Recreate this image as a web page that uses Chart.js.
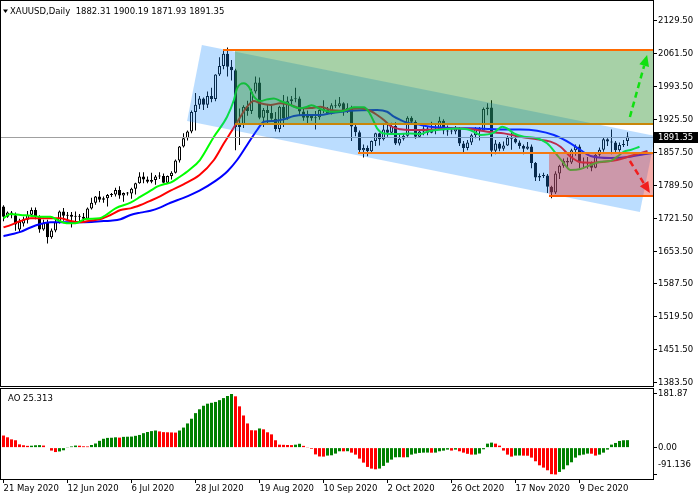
<!DOCTYPE html>
<html><head><meta charset="utf-8">
<script src="https://cdn.jsdelivr.net/npm/chart.js@4.4.1/dist/chart.umd.min.js"></script>
<style>
html,body{margin:0;padding:0;background:#fff;width:700px;height:500px;overflow:hidden}
#c1{position:absolute;left:0;top:0}
#c2{position:absolute;left:0;top:387px}
</style></head><body>
<canvas id="c1" width="700" height="387"></canvas>
<canvas id="c2" width="700" height="113"></canvas>
<script>
// ---------- data ----------
const symbolTitle = 'XAUUSD,Daily';
const xTickLabels = ['21 May 2020','12 Jun 2020','6 Jul 2020','28 Jul 2020','19 Aug 2020','10 Sep 2020','2 Oct 2020','26 Oct 2020','17 Nov 2020','9 Dec 2020'];
const xTickBars = [0,16,32,48,64,80,96,112,128,144];
const priceTicks = [2129.50,2061.50,1993.50,1925.50,1857.50,1789.50,1721.50,1653.50,1587.50,1519.50,1451.50,1383.50];
const aoTicks = [181.87,0,-91.136];
const aoTickLabels = ['181.87','0.00','-91.136'];

const opens = [1747,1726,1735,1729,1700,1712,1720,1730,1740,1727,
1700,1713,1684,1698,1715,1737,1728,1730,1726,1727,
1726,1722,1743,1755,1768,1761,1764,1771,1772,1781,
1770,1775,1774,1784,1795,1809,1803,1798,1802,1809,
1810,1796,1810,1817,1842,1871,1888,1902,1942,1957,
1970,1957,1975,1969,2019,2037,2062,2035,2028,1911,
1915,1953,1944,1984,2003,1930,1946,1940,1928,1907,
1953,1929,1964,1968,1970,1943,1930,1934,1929,1931,
1946,1947,1940,1956,1954,1960,1944,1950,1912,1900,
1863,1868,1861,1882,1898,1886,1906,1899,1913,1877,
1887,1893,1930,1922,1891,1902,1908,1899,1904,1907,
1924,1904,1902,1902,1908,1877,1868,1879,1894,1909,
1904,1948,1951,1862,1877,1866,1873,1889,1887,1879,
1872,1866,1871,1837,1807,1810,1811,1788,1776,1815,
1831,1841,1838,1863,1871,1838,1836,1839,1827,1854,
1864,1886,1881,1879,1863,1874,1882.31];
const highs = [1750,1737,1738,1735,1722,1726,1738,1745,1745,1729,
1720,1720,1702,1723,1739,1744,1736,1736,1737,1732,
1734,1745,1765,1769,1779,1768,1773,1775,1786,1789,
1776,1777,1786,1796,1818,1818,1809,1817,1812,1818,
1815,1811,1820,1844,1872,1898,1904,1945,1981,1975,
1972,1984,1992,2020,2055,2070,2075,2049,2031,1949,
1956,1965,1990,2015,2013,1950,1958,1956,1942,1955,
1977,1974,1975,1992,1974,1951,1945,1937,1944,1954,
1966,1952,1960,1967,1973,1962,1960,1955,1917,1904,
1875,1873,1883,1899,1899,1917,1918,1920,1921,1895,
1898,1933,1933,1925,1905,1913,1913,1922,1916,1932,
1927,1914,1911,1913,1911,1882,1884,1897,1911,1911,
1951,1960,1966,1884,1880,1881,1893,1900,1894,1883,
1875,1880,1875,1839,1815,1817,1814,1790,1820,1833,
1846,1848,1866,1875,1875,1848,1849,1840,1857,1869,
1890,1888,1906,1882,1879,1884,1900.19];
const lows = [1717,1724,1723,1697,1693,1706,1712,1726,1721,1693,
1697,1671,1681,1694,1712,1718,1718,1704,1715,1716,
1716,1721,1741,1751,1756,1755,1747,1767,1768,1763,
1757,1770,1763,1772,1794,1795,1795,1795,1792,1804,
1795,1794,1803,1815,1838,1869,1883,1898,1904,1948,
1946,1950,1962,1964,2016,2030,2015,2007,1863,1874,
1909,1934,1938,1980,1927,1911,1916,1926,1902,1900,
1911,1926,1955,1962,1936,1924,1917,1924,1906,1926,
1940,1937,1937,1950,1951,1934,1940,1882,1892,1859,
1848,1851,1859,1872,1873,1883,1891,1895,1874,1873,
1883,1891,1918,1887,1889,1894,1894,1898,1896,1906,
1896,1893,1896,1896,1872,1859,1863,1874,1888,1883,
1903,1935,1850,1855,1861,1862,1872,1864,1877,1866,
1855,1864,1826,1800,1800,1806,1775,1764,1773,1804,
1827,1826,1835,1852,1826,1825,1825,1820,1826,1850,
1860,1872,1855,1859,1860,1870,1871.93];
const closes = [1726,1735,1729,1710,1716,1721,1730,1740,1727,1700,
1713,1684,1698,1715,1737,1728,1730,1726,1727,1726,
1722,1743,1755,1768,1761,1764,1771,1772,1781,1770,
1775,1774,1784,1795,1809,1803,1798,1802,1809,1810,
1796,1810,1817,1842,1871,1888,1902,1942,1957,1970,
1957,1975,1969,2019,2037,2062,2035,2028,1911,1915,
1953,1944,1984,2003,1930,1946,1940,1928,1907,1953,
1929,1964,1968,1970,1943,1930,1934,1929,1931,1946,
1947,1940,1956,1954,1960,1944,1950,1912,1900,1863,
1868,1861,1882,1898,1886,1906,1899,1913,1877,1887,
1893,1930,1922,1891,1902,1908,1899,1904,1907,1924,
1904,1902,1903,1908,1877,1868,1879,1894,1909,1904,
1948,1951,1862,1877,1866,1873,1889,1887,1879,1872,
1866,1871,1837,1807,1810,1811,1788,1776,1815,1831,
1841,1838,1863,1871,1838,1836,1839,1827,1854,1864,
1886,1881,1879,1863,1874,1876,1891.35];

// Alligator lines: [bar, price]
const jawPts = [[0,1686],[2,1690],[4.25,1695],[6.75,1704],[9.25,1711],[11.75,1714.6],[14,1715],[18,1715],[22,1715.5],[24.25,1716.7],[26.75,1718],[29.25,1721],[31.75,1729.7],[34.25,1734.6],[36.75,1738.5],[39.25,1745.5],[41.75,1755],[45,1765],[49,1780],[53,1800],[56,1820],[58.4,1843],[60.9,1874],[63.4,1904.8],[65.1,1922],[67.6,1923.4],[70.1,1927],[72.6,1933.7],[75.1,1935.8],[79.25,1936],[81.75,1939.2],[86.75,1944.6],[93.4,1946],[95.9,1942.5],[97.6,1932.3],[99.25,1925.5],[100.9,1920],[103.4,1916.6],[106.75,1911.7],[110.1,1909.6],[114.25,1908.2],[116.75,1908.5],[121.75,1907],[125.1,1906],[129.25,1906],[133.4,1903.4],[137.6,1894.5],[141.75,1877.4],[144.25,1863.6],[146.75,1851.3],[151.75,1847.1],[156.75,1849.9],[160.1,1854.8],[164,1859]];
const teethPts = [[0,1704.3],[1.75,1708.9],[4.25,1717.3],[6.75,1722.8],[9.25,1723],[11.75,1723],[14.25,1722.8],[16.75,1717.3],[19.25,1714.6],[21.75,1718.1],[24.25,1721.5],[26.75,1729.7],[29.25,1740],[31.75,1743.4],[34.25,1750.3],[36.75,1759.1],[39.25,1768.8],[41.75,1779.8],[45,1793],[49,1812],[52.6,1843],[55.1,1877.4],[57.2,1904.8],[59.25,1932.3],[60.9,1952.9],[62.6,1964.6],[64.25,1959.9],[66.75,1956.4],[69.25,1959.9],[71.75,1956.4],[74.25,1949.6],[76.75,1950],[79.25,1952.9],[81.75,1946],[84.25,1944.6],[86.75,1948.2],[89.25,1949.6],[91.75,1944],[93.4,1935.8],[95.1,1925.5],[96.75,1913.1],[99.25,1906.3],[101.75,1904.8],[105.1,1904.8],[108.4,1906.3],[111.75,1908.2],[115.1,1908.2],[118.4,1905],[121.75,1900.5],[125.1,1897.9],[129.25,1891],[133.4,1885.6],[136.75,1880.8],[139.25,1870.4],[141.75,1849.9],[144.25,1838.3],[146.75,1837.5],[150.1,1839.5],[153.4,1843],[156.75,1851.3],[161,1861.6]];
const lipsPts = [[0,1722.8],[1.75,1731.7],[4.25,1729.7],[6.75,1728.3],[9.25,1726.2],[11.75,1726.2],[13.5,1719.4],[15.75,1712.5],[18,1712.5],[20.5,1721.5],[24,1722.8],[25.6,1729.7],[28,1743.4],[31.75,1755.1],[34.25,1767.4],[36.75,1779.8],[38.4,1788],[40.1,1792.9],[41.75,1796.3],[44,1808],[46.5,1823],[49.1,1843],[52.6,1891],[55.9,1932.3],[57.6,1966.7],[58.4,1990.8],[60.1,2001.1],[61.3,1994.1],[62.6,1973.5],[64.25,1964.6],[65.9,1968],[67.6,1970],[69.25,1964.6],[70.9,1959.9],[72.6,1952.9],[74.25,1949.6],[75.9,1952.9],[77,1956],[79.25,1948],[81.75,1942.5],[85.1,1944.6],[87.6,1951.6],[90.1,1951.6],[91.3,1942.5],[92.6,1922],[93.4,1908.2],[95.1,1897.8],[98.4,1896.4],[101.75,1897.8],[104.25,1896.4],[105.9,1901.3],[110.1,1906.3],[113.4,1908.2],[115.9,1906.3],[117.6,1901.3],[119.25,1894.5],[122.6,1899.3],[124.7,1911.7],[125.9,1908.2],[127.6,1897.9],[130.1,1891],[133.4,1887.7],[135.9,1877.4],[138.4,1853.3],[140.1,1836.2],[141.75,1822.4],[144.25,1824.4],[146.75,1832.7],[149.25,1839.5],[151.75,1841],[153.4,1849.9],[155.1,1860.1],[156.75,1863.6],[159,1870.4]];

const aoValues = [41,35,28,25,11,8,6,6.5,8,8.5,
7,0,-10,-15,-13,-9,1,4,7,6.5,
4.5,4,9,14,23,30,33,33.5,35,34,
36.5,37,37.5,40,43,49,53,56,58,55,
52.5,52,51.5,51,58,68,82,98,117,130,
142,149,152,155,161,168,175,181.87,174,140,
109,82,59,58.5,65,62,52,45,25,10,
9.5,9,8.5,10,13,6,1,-4,-23,-30,
-30.5,-27,-26,-20.3,-12.4,-12.6,-12.2,-17,-23.7,-37.3,
-50.9,-65.5,-71.2,-73.5,-71,-62,-51,-40.7,-32.8,-32.5,
-33,-32.6,-23.7,-20.3,-18,-17,-16.8,-17.2,-16.9,-12.4,
-10.2,-6.8,-10,-6.8,-12.4,-17,-21,-23.7,-23.5,-20,
-5.6,13.5,17,13.5,6.8,-10,-23.7,-30.5,-27,-26.8,
-27.2,-27.5,-33.9,-46.3,-60,-67.8,-76.8,-90,-91.136,-82.5,
-73.5,-60,-49.7,-33.9,-26,-23.7,-20.3,-20.6,-27,-23.7,
-17,-6.8,10.2,15.8,22.6,25.0,25.313];

// chart objects (anchors in bar index / price)
const channelCorners = [[49.6,2080],[162.9,1892.5],[159.1,1735.9],[45.9,1923.4]];
const zoneRects = [
  {x0:57.9, x1:170, top:2069, bottom:1916.6, color:'rgba(34,139,34,0.4)'},
  {x0:136.4, x1:170, top:1856.8, bottom:1768.8, color:'rgba(230,50,42,0.4)'}
];
const levelLines = [
  {from:54.9, price:2069, color:'#FF6A00'},
  {from:57.9, price:1916.6, color:'#C8860A'},
  {from:88.6, price:1856.8, color:'#F57A10'},
  {from:136.4, price:1768.8, color:'#FF5A00'}
];
const arrowObjs = [
  {from:[156.6,1931.7], to:[160.9,2059.4], color:'#10E010'},
  {from:[156.6,1841], to:[161.6,1775], color:'#F01E1E'}
];

// ---------- setup ----------
Chart.defaults.font.family = 'DejaVu Sans';
Chart.defaults.font.size = 8.5;
Chart.defaults.color = '#000';

const X_MIN = -0.625, X_MAX = 162.375;
const n = opens.length;
const lastClose = closes[n-1];

function drawArrow(ctx, x1, y1, x2, y2, color){
  const ang = Math.atan2(y2-y1, x2-x1);
  const headLen = 11, headW = 5;
  const bx = x2 - headLen*Math.cos(ang), by = y2 - headLen*Math.sin(ang);
  ctx.save();
  ctx.strokeStyle = color; ctx.fillStyle = color; ctx.lineWidth = 2.5;
  ctx.setLineDash([6,4]);
  ctx.beginPath(); ctx.moveTo(x1,y1); ctx.lineTo(bx,by); ctx.stroke();
  ctx.setLineDash([]);
  ctx.beginPath();
  ctx.moveTo(x2,y2);
  ctx.lineTo(bx + headW*Math.sin(ang), by - headW*Math.cos(ang));
  ctx.lineTo(bx - headW*Math.sin(ang), by + headW*Math.cos(ang));
  ctx.closePath(); ctx.fill();
  ctx.restore();
}

const mainPlugin = {
  id:'mainOverlay',
  afterDatasetsDraw(chart){
    const {ctx, chartArea:a, scales:{x,y}} = chart;
    const px = v=>x.getPixelForValue(v), py = v=>y.getPixelForValue(v);
    ctx.save();
    ctx.beginPath(); ctx.rect(a.left, a.top, a.right-a.left, a.bottom-a.top); ctx.clip();
    ctx.strokeStyle = '#A0A0A0'; ctx.lineWidth = 1;
    const by = Math.round(py(lastClose)) + 0.5;
    ctx.beginPath(); ctx.moveTo(a.left, by); ctx.lineTo(a.right, by); ctx.stroke();
    ctx.fillStyle = 'rgba(30,144,255,0.3)';
    ctx.beginPath();
    channelCorners.forEach(([i,p],k)=>{ if(k) ctx.lineTo(px(i),py(p)); else ctx.moveTo(px(i),py(p)); });
    ctx.closePath(); ctx.fill();
    zoneRects.forEach(r=>{
      ctx.fillStyle = r.color;
      const x0 = Math.round(px(r.x0)), y0 = Math.round(py(r.top)), y1 = Math.round(py(r.bottom));
      ctx.fillRect(x0, y0, Math.round(px(r.x1)) - x0, y1 - y0);
    });
    levelLines.forEach(l=>{
      ctx.strokeStyle = l.color; ctx.lineWidth = 2;
      const yy = Math.round(py(l.price));
      ctx.beginPath(); ctx.moveTo(Math.round(px(l.from)), yy); ctx.lineTo(a.right, yy); ctx.stroke();
    });
    arrowObjs.forEach(ar=>drawArrow(ctx, px(ar.from[0]), py(ar.from[1]), px(ar.to[0]), py(ar.to[1]), ar.color));
    ctx.restore();
  },
  afterDraw(chart){
    const {ctx, scales:{y}} = chart;
    ctx.save();
    ctx.strokeStyle = '#000'; ctx.lineWidth = 1;
    ctx.strokeRect(0.5, 0.5, 653, 386);
    ctx.fillStyle = '#000';
    ctx.beginPath(); ctx.moveTo(3,9.5); ctx.lineTo(8,9.5); ctx.lineTo(5.5,13); ctx.closePath(); ctx.fill();
    ctx.font = '8.5px "DejaVu Sans"';
    ctx.textBaseline = 'alphabetic'; ctx.textAlign = 'left';
    const t = symbolTitle + '  ' + [opens[n-1],highs[n-1],lows[n-1],closes[n-1]].map(v=>v.toFixed(2)).join(' ');
    ctx.fillText(t, 10, 14);
    const py = Math.round(y.getPixelForValue(lastClose));
    ctx.fillStyle = '#000';
    ctx.fillRect(654, py-5, 44, 11);
    ctx.fillStyle = '#fff'; ctx.textBaseline = 'middle';
    ctx.fillText(lastClose.toFixed(2), 658, py+0.5);
    ctx.restore();
  }
};

new Chart(document.getElementById('c1'), {
  type:'bar',
  data:{datasets:[
    {type:'line', data:lipsPts.map(([x,y])=>({x,y})), borderColor:'#00FF00', borderWidth:2, pointRadius:0, cubicInterpolationMode:'monotone', order:1},
    {type:'line', data:teethPts.map(([x,y])=>({x,y})), borderColor:'#FF0000', borderWidth:2, pointRadius:0, cubicInterpolationMode:'monotone', order:2},
    {type:'line', data:jawPts.map(([x,y])=>({x,y})), borderColor:'#0000FF', borderWidth:2, pointRadius:0, cubicInterpolationMode:'monotone', order:3},
    {type:'bar', data:opens.map((o,i)=>({x:i, y:[o, closes[i]]})),
      backgroundColor:opens.map((o,i)=> closes[i] >= o ? '#FFFFFF' : '#000000'),
      borderColor:'#000000', borderWidth:1, borderSkipped:false, barThickness:3, grouped:false, inflateAmount:0, minBarLength:1, order:4},
    {type:'bar', data:opens.map((o,i)=>({x:i, y:[lows[i], highs[i]]})),
      backgroundColor:'#000000', borderWidth:0, barThickness:1, grouped:false, inflateAmount:0, order:5}
  ]},
  options:{
    responsive:false, animation:false, devicePixelRatio:1, events:[],
    layout:{padding:{left:1, top:1, right:0, bottom:1}},
    plugins:{legend:{display:false}, tooltip:{enabled:false}},
    scales:{
      x:{type:'linear', min:X_MIN, max:X_MAX, offset:false, grid:{offset:false}, display:false},
      y:{type:'linear', position:'right', min:1377.3, max:2170.7,
        afterBuildTicks:s=>{ s.ticks = priceTicks.map(v=>({value:v})); },
        afterFit:s=>{ s.width = 47; s.paddingTop = 0; s.paddingBottom = 0; },
        ticks:{callback:v=>Number(v).toFixed(2), autoSkip:false, padding:1, color:'#000'},
        grid:{drawOnChartArea:false, tickLength:4, color:'#000'},
        border:{display:false}
      }
    }
  },
  plugins:[mainPlugin]
});

const aoPlugin = {
  id:'aoFrame',
  afterDraw(chart){
    const {ctx} = chart;
    ctx.save();
    ctx.strokeStyle = '#000'; ctx.lineWidth = 1;
    ctx.strokeRect(0.5, 1.5, 653, 91);
    ctx.fillStyle = '#000';
    ctx.font = '8.5px "DejaVu Sans"';
    ctx.textBaseline = 'alphabetic'; ctx.textAlign = 'left';
    ctx.fillText('AO ' + aoValues[aoValues.length-1].toFixed(3), 8, 14);
    ctx.restore();
  }
};

new Chart(document.getElementById('c2'), {
  type:'bar',
  data:{datasets:[
    {data:aoValues.map((v,i)=>({x:i, y:v})),
     backgroundColor:aoValues.map((v,i)=> (i>0 && v > aoValues[i-1]) ? '#008000' : '#FF0000'),
     borderWidth:0, barThickness:3, grouped:false, inflateAmount:0}
  ]},
  options:{
    responsive:false, animation:false, devicePixelRatio:1, events:[],
    layout:{padding:{left:1, top:2, right:0, bottom:0}},
    plugins:{legend:{display:false}, tooltip:{enabled:false}},
    scales:{
      x:{type:'linear', position:'bottom', min:X_MIN, max:X_MAX, offset:false,
        afterBuildTicks:s=>{ s.ticks = xTickBars.map(v=>({value:v})); },
        afterFit:s=>{ s.height = 21; s.paddingLeft = 0; s.paddingRight = 0; },
        ticks:{callback:v=>xTickLabels[xTickBars.indexOf(v)], align:'start', maxRotation:0, autoSkip:false, padding:1, color:'#000'},
        grid:{drawOnChartArea:false, offset:false, tickLength:4, color:'#000'},
        border:{display:false}
      },
      y:{type:'linear', position:'right', min:-106.4, max:198.8,
        afterBuildTicks:s=>{ s.ticks = aoTicks.map(v=>({value:v})); },
        afterFit:s=>{ s.width = 47; s.paddingTop = 0; s.paddingBottom = 0; },
        ticks:{callback:v=>{ const k = aoTicks.indexOf(v); return k === 2 ? [aoTickLabels[k],'',''] : aoTickLabels[k]; }, autoSkip:false, padding:1, color:'#000'},
        grid:{drawOnChartArea:false, tickLength:4, color:'#000'},
        border:{display:false}
      }
    }
  },
  plugins:[aoPlugin]
});
</script>
</body></html>
